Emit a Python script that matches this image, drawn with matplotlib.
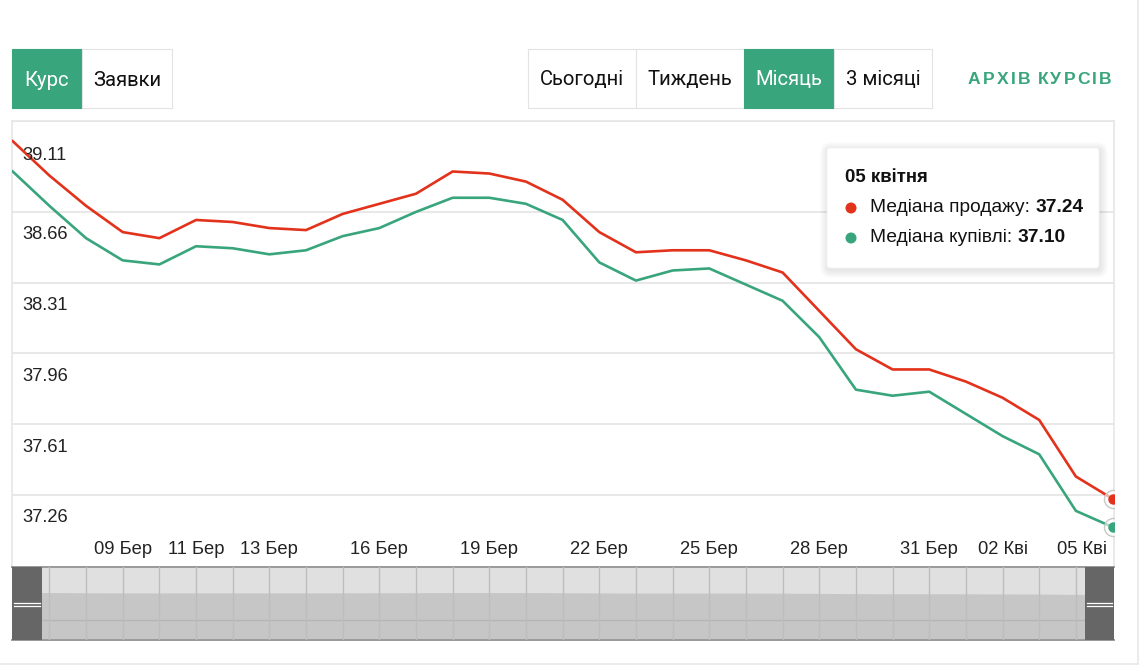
import matplotlib
matplotlib.use("Agg")
import matplotlib.pyplot as plt
from matplotlib.patches import Rectangle, FancyBboxPatch, Circle
from matplotlib.transforms import ScaledTranslation

# ---------------- data ----------------
days = ["06 Бер", "07 Бер", "08 Бер", "09 Бер", "10 Бер", "11 Бер", "12 Бер", "13 Бер",
        "14 Бер", "15 Бер", "16 Бер", "17 Бер", "18 Бер", "19 Бер", "20 Бер", "21 Бер",
        "22 Бер", "23 Бер", "24 Бер", "25 Бер", "26 Бер", "27 Бер", "28 Бер", "29 Бер",
        "30 Бер", "31 Бер", "01 Кві", "02 Кві", "03 Кві", "04 Кві", "05 Кві"]
sell = [39.01, 38.84, 38.69, 38.56, 38.53, 38.62, 38.61, 38.58, 38.57, 38.65, 38.70,
        38.75, 38.86, 38.85, 38.81, 38.72, 38.56, 38.46, 38.47, 38.47, 38.42, 38.36,
        38.17, 37.98, 37.88, 37.88, 37.82, 37.74, 37.63, 37.35, 37.24]
buy = [38.86, 38.69, 38.53, 38.42, 38.40, 38.49, 38.48, 38.45, 38.47, 38.54, 38.58,
       38.66, 38.73, 38.73, 38.70, 38.62, 38.41, 38.32, 38.37, 38.38, 38.30, 38.22,
       38.04, 37.78, 37.75, 37.77, 37.66, 37.55, 37.46, 37.18, 37.10]
y_ticks = [37.26, 37.61, 37.96, 38.31, 38.66, 39.11]
x_tick_labels = ["09 Бер", "11 Бер", "13 Бер", "16 Бер", "19 Бер", "22 Бер",
                 "25 Бер", "28 Бер", "31 Бер", "02 Кві", "05 Кві"]
period_buttons = ["Сьогодні", "Тиждень", "Місяць", "3 місяці"]
mode_buttons = ["Курс", "Заявки"]
tooltip_date = "05 квітня"
sell_name = "Медіана продажу"
buy_name = "Медіана купівлі"

# ---------------- style ----------------
RED = "#e2321b"
GREEN = "#38a57c"
TXT = "#222222"
GRID = "#e6e6e6"
AX_FONT = ["Liberation Sans", "DejaVu Sans"]
BTN_FONT = ["Roboto", "DejaVu Sans"]

W, H = 1142, 668
fig = plt.figure(figsize=(W / 100, H / 100), dpi=100)
fig.patch.set_facecolor("white")


def px_axes(x0, y0, x1, y1, **kw):
    return fig.add_axes([x0 / W, 1 - y1 / H, (x1 - x0) / W, (y1 - y0) / H], **kw)


# background overlay (pixel coordinates)
bg = px_axes(0, 0, W, H, zorder=0)
bg.set_xlim(0, W)
bg.set_ylim(H, 0)
bg.axis("off")

# page frame
bg.plot([0, 1138], [664, 664], color="#e8e8e8", lw=1.2)
bg.plot([1138, 1138], [0, 664], color="#e8e8e8", lw=1.2)

# mode buttons
mx = [12, 82, 172]
for i, lab in enumerate(mode_buttons):
    sel = i == 0
    bg.add_patch(Rectangle((mx[i], 49), mx[i + 1] - mx[i], 59,
                           facecolor=GREEN if sel else "white",
                           edgecolor=GREEN if sel else "#e3e3e3", lw=0.8))
    bg.text((mx[i] + mx[i + 1]) / 2, 80, lab, ha="center", va="center",
            fontsize=14.6, family=BTN_FONT, color="white" if sel else "#111111")

# period buttons
px_ = [528, 636, 744, 834, 932]
for i, lab in enumerate(period_buttons):
    sel = i == 2
    bg.add_patch(Rectangle((px_[i], 49), px_[i + 1] - px_[i], 59,
                           facecolor=GREEN if sel else "white",
                           edgecolor=GREEN if sel else "#e3e3e3", lw=0.8))
    bg.text((px_[i] + px_[i + 1]) / 2, 80, lab, ha="center", va="center",
            fontsize=14.6, family=BTN_FONT, color="white" if sel else "#111111")

# letter-spaced archive link
renderer = fig.canvas.get_renderer()
cx = 968
for ch in "АРХІВ КУРСІВ":
    if ch == " ":
        cx += 5.5
        continue
    t = bg.text(cx, 79, ch, ha="left", va="center", fontsize=12.6,
                family=AX_FONT, fontweight="bold", color=GREEN)
    cx += t.get_window_extent(renderer).width + 2.2

# ---------------- main plot ----------------
ax = px_axes(12, 121, 1114, 567, zorder=2)
xs = list(range(len(days)))
ax.set_xlim(-0.02, 30.04)
ax.set_ylim(39.11 - (567 - 121) / 202.0, 39.11)
ax.set_facecolor("white")
for s in ["left", "top", "right"]:
    ax.spines[s].set_color(GRID)
    ax.spines[s].set_linewidth(1.2)
ax.spines["bottom"].set_visible(False)
ax.set_yticks(y_ticks)
ax.set_yticklabels([])
ax.set_xticks([])
ax.tick_params(axis="y", length=0)
ax.yaxis.grid(True, color=GRID, lw=1.3)
ax.set_axisbelow(True)

ax.plot(xs, sell, color=RED, lw=1.9, solid_joinstyle="round", zorder=3)
ax.plot(xs, buy, color=GREEN, lw=1.9, solid_joinstyle="round", zorder=3)

# hover markers at last point
for series, col in [(sell, RED), (buy, GREEN)]:
    ax.plot([xs[-1]], [series[-1]], marker="o", ms=13, mfc=(1, 1, 1, 0.6),
            mec="#c8c8c8", mew=1.0, zorder=4)
    ax.plot([xs[-1]], [series[-1]], marker="o", ms=6.5, mfc=col, mec=col, zorder=5)

# y labels (inside plot, below gridlines)
ytr = ax.get_yaxis_transform()
for v in y_ticks:
    off = 35 if v == max(y_ticks) else 23
    ax.text(10 / 1102, v, f"{v:.2f}", transform=ytr + ScaledTranslation(0, -off / 100, fig.dpi_scale_trans),
            ha="left", va="center", fontsize=13.2, family=AX_FONT, color=TXT, zorder=6)

# x labels (inside plot, at bottom)
xtr = ax.get_xaxis_transform()
for lab in x_tick_labels:
    i = days.index(lab)
    if i == len(days) - 1:
        ax.text(i, 17 / 446, lab, transform=xtr + ScaledTranslation(-6 / 100, 0, fig.dpi_scale_trans),
                ha="right", va="center", fontsize=13.2, family=AX_FONT, color=TXT)
    else:
        ax.text(i, 17 / 446, lab, transform=xtr, ha="center", va="center",
                fontsize=13.2, family=AX_FONT, color=TXT)

# ---------------- navigator ----------------
nav = px_axes(12, 567, 1114, 640, zorder=2)
nav.set_xlim(ax.get_xlim())
nav_top = 59.8
nav.set_ylim(0, nav_top)
nav.set_facecolor("#e0e0e0")
nav.fill_between(xs, sell, 0, color="#c6c6c6", lw=0, zorder=1)
nav.set_xticks(xs)
nav.set_xticklabels([])
nav.set_yticks([])
nav.tick_params(length=0)
nav.xaxis.grid(True, color="#bdbdbd", lw=1.0, zorder=2)
nav.set_axisbelow(False)
nav.axhline(nav_top * 20 / 73, color="#b5b5b5", lw=1.0, zorder=2)
for s in ["left", "right"]:
    nav.spines[s].set_visible(False)
for s in ["top", "bottom"]:
    nav.spines[s].set_color("#9a9a9a")
    nav.spines[s].set_linewidth(1.4)

# ---------------- foreground overlay: handles + tooltip ----------------
fg = px_axes(0, 0, W, H, zorder=10)
fg.set_xlim(0, W)
fg.set_ylim(H, 0)
fg.axis("off")
fg.patch.set_alpha(0)

for hx0, hx1 in [(12, 42), (1085, 1114)]:
    fg.add_patch(Rectangle((hx0, 567), hx1 - hx0, 73, facecolor="#666666", edgecolor="none"))
    for yy in (602.5, 605.5):
        fg.plot([hx0 + 2, hx1 - 2], [yy, yy], color="white", lw=0.9)

# tooltip soft shadow + box
for k in range(1, 9):
    fg.add_patch(FancyBboxPatch((827 + 1, 148 + 2), 272, 120,
                                boxstyle=f"round,pad={k},rounding_size={3 + k}",
                                facecolor="black", alpha=0.012, edgecolor="none"))
fg.add_patch(FancyBboxPatch((827, 148), 272, 120, boxstyle="round,pad=0,rounding_size=3",
                            facecolor="white", edgecolor="#f2f2f2", lw=0.5))
fg.text(845, 178, tooltip_date, ha="left", va="center", fontsize=13.4,
        family=AX_FONT, fontweight="bold", color="#111111")
rows = [(sell_name, sell[-1], RED, 208), (buy_name, buy[-1], GREEN, 238)]
for name, val, col, yy in rows:
    fg.add_patch(Circle((851, yy), 5.5, facecolor=col, edgecolor="none"))
    t = fg.text(870, yy, f"{name}: ", ha="left", va="center", fontsize=13.8,
                family=AX_FONT, color="#111111")
    wpx = t.get_window_extent(renderer).width
    fg.text(870 + wpx, yy, f"{val:.2f}", ha="left", va="center", fontsize=13.8,
            family=AX_FONT, fontweight="bold", color="#111111")

fig.savefig("out.png", dpi=100, facecolor="white")
